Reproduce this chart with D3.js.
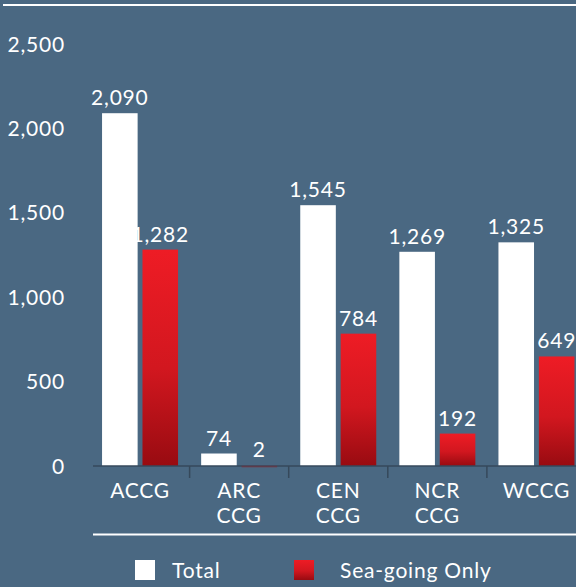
<!DOCTYPE html>
<html>
<head>
<meta charset="utf-8">
<script src="https://cdn.jsdelivr.net/npm/d3@7"></script>
<style>
  html, body { margin: 0; padding: 0; background: #4a6882; }
  svg { display: block; font-family: Lato, "Open Sans", sans-serif; letter-spacing: 0.8px; }
</style>
</head>
<body>
<svg id="chart" width="576" height="587"></svg>
<script>
// data
const categories = ["ACCG", "ARC CCG", "CEN CCG", "NCR CCG", "WCCG"];
const seriesNames = ["Total", "Sea-going Only"];
const totalValues = [2090, 74, 1545, 1269, 1325];
const seaGoingValues = [1282, 2, 784, 192, 649];
const yTicks = [0, 500, 1000, 1500, 2000, 2500];

const rows = categories.map((c, i) => ({
  cat: c,
  vals: [
    { key: "Total", v: totalValues[i] },
    { key: "Sea-going Only", v: seaGoingValues[i] }
  ]
}));

const svg = d3.select("#chart");
const bg = "#4a6882";
svg.append("rect").attr("width", 576).attr("height", 587).attr("fill", bg);

// red gradient for sea-going bars
const defs = svg.append("defs");
const grad = defs.append("linearGradient")
  .attr("id", "redGrad")
  .attr("x1", 0).attr("y1", 0).attr("x2", 0).attr("y2", 1);
grad.append("stop").attr("offset", "0%").attr("stop-color", "#ee1c25");
grad.append("stop").attr("offset", "55%").attr("stop-color", "#d2171f");
grad.append("stop").attr("offset", "100%").attr("stop-color", "#980b11");

const color = d3.scaleOrdinal().domain(seriesNames).range(["#ffffff", "url(#redGrad)"]);

// top rule
svg.append("line")
  .attr("x1", 3).attr("x2", 576).attr("y1", 5).attr("y2", 5)
  .attr("stroke", "#fff").attr("stroke-width", 2);

const x = d3.scaleBand().domain(categories).range([90.5, 586]).padding(0);
const y = d3.scaleLinear().domain([0, 2500]).range([466, 44]);
const pairW = 76;
const xs = d3.scaleBand().domain(seriesNames).range([0, pairW]).paddingInner(0.12);

// y labels
svg.append("g").selectAll("text")
  .data(yTicks)
  .join("text")
  .attr("x", 65)
  .attr("y", d => y(d))
  .attr("dy", "0.36em")
  .attr("text-anchor", "end")
  .attr("fill", "#fff")
  .attr("font-size", 21)
  .text(d => d3.format(",")(d));

// bars
const groups = svg.append("g").selectAll("g")
  .data(rows)
  .join("g")
  .attr("transform", d => `translate(${x(d.cat) + x.bandwidth() / 2 - pairW / 2},0)`);

groups.selectAll("rect")
  .data(d => d.vals)
  .join("rect")
  .attr("x", d => xs(d.key))
  .attr("width", xs.bandwidth())
  .attr("y", d => y(d.v))
  .attr("height", d => Math.max(1.5, y(0) - y(d.v)))
  .attr("fill", d => color(d.key));

groups.selectAll("text")
  .data(d => d.vals)
  .join("text")
  .attr("x", d => xs(d.key) + xs.bandwidth() / 2)
  .attr("y", d => Math.min(y(d.v), y(0) - 1.5) - 8)
  .attr("text-anchor", "middle")
  .attr("fill", "#fff")
  .attr("font-size", 21)
  .text(d => d3.format(",")(d.v));

// x axis
const axis = svg.append("g").attr("transform", `translate(0,${y(0)})`);
axis.append("line")
  .attr("x1", 93).attr("x2", 576)
  .attr("stroke", "#36495b").attr("stroke-width", 1.5);
axis.selectAll(".tick")
  .data(categories.slice(1))
  .join("line")
  .attr("x1", d => x(d)).attr("x2", d => x(d))
  .attr("y1", 0).attr("y2", 12)
  .attr("stroke", "#36495b").attr("stroke-width", 1.5);

const labels = axis.selectAll(".lab")
  .data(categories)
  .join("text")
  .attr("text-anchor", "middle")
  .attr("fill", "#fff")
  .attr("font-size", 21)
  .attr("transform", d => `translate(${x(d) + x.bandwidth() / 2},0)`);
labels.selectAll("tspan")
  .data(d => d.split(" "))
  .join("tspan")
  .attr("x", 0)
  .attr("y", (d, i) => 32 + i * 25)
  .text(d => d);

// bottom rule
svg.append("line")
  .attr("x1", 93).attr("x2", 576).attr("y1", 534.5).attr("y2", 534.5)
  .attr("stroke", "#fff").attr("stroke-width", 2);

// legend
const legendX = [135, 294];
const legend = svg.append("g").selectAll("g")
  .data(seriesNames)
  .join("g")
  .attr("transform", (d, i) => `translate(${legendX[i]},560)`);
legend.append("rect")
  .attr("width", 20).attr("height", 20)
  .attr("fill", d => color(d));
legend.append("text")
  .attr("x", (d, i) => i === 0 ? 37 : 46)
  .attr("y", 10)
  .attr("dy", "0.36em")
  .attr("fill", "#fff")
  .attr("font-size", 21)
  .text(d => d);
</script>
</body>
</html>
